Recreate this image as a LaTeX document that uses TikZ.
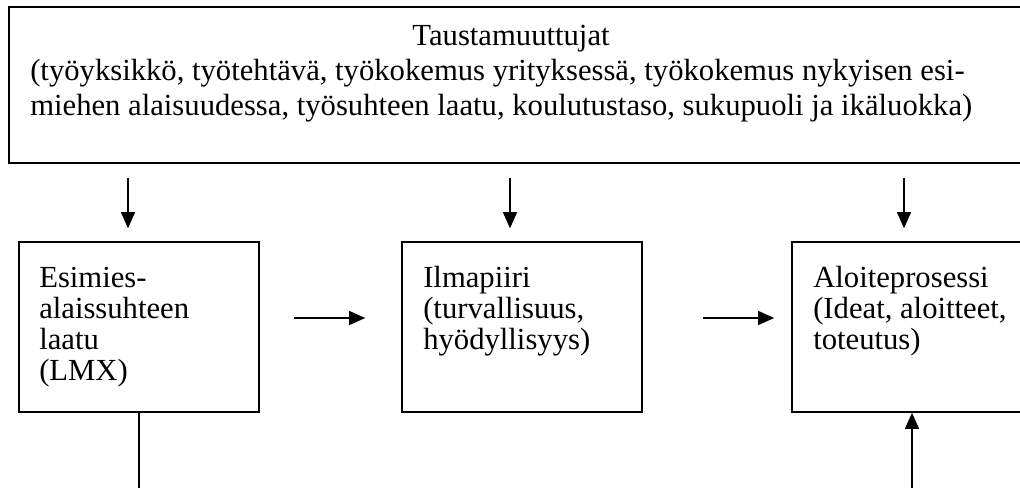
\documentclass[tikz,border=0pt]{standalone}
\usepackage{fontspec}
\setmainfont{Liberation Serif}
\usetikzlibrary{arrows.meta,fit}
\begin{document}
\begin{tikzpicture}[x=0.75pt,y=-0.75pt,
  box/.style={draw,line width=1.2pt,inner sep=0pt},
  arr/.style={line width=0.9pt,-{Triangle[length=12pt,width=10.5pt]}},
  link/.style={line width=0.9pt},
  toptxt/.style={font=\fontsize{23}{26.25}\selectfont,inner sep=0pt,align=left},
  txt/.style={font=\fontsize{23}{23.25}\selectfont,inner sep=0pt,align=left}]
\clip (0,0) rectangle (1020,487);
% background variables (multi-line nodes sit on the baseline of their last line)
\node[box,fit={(9,7) (1024,163)}] (bg) {};
\node[toptxt,anchor=base] (bgtitle) at (511,45) {Taustamuuttujat};
\node[toptxt,anchor=base west] (bglist) at (30,115) {(työyksikkö, työtehtävä, työkokemus yrityksessä, työkokemus nykyisen esi-\\miehen alaisuudessa, työsuhteen laatu, koulutustaso, sukupuoli ja ikäluokka)};
% the three process boxes
\node[box,fit={(19,242) (259,412)}] (lmx) {};
\node[txt,anchor=base west] (lmxtext) at (39,380) {Esimies-\\alaissuhteen\\laatu\\(LMX)};
\node[box,fit={(402,242) (642,412)}] (clim) {};
\node[txt,anchor=base west] (climtext) at (423,349) {Ilmapiiri\\(turvallisuus,\\hyödyllisyys)};
\node[box,fit={(792,242) (1024,412)}] (init) {};
\node[txt,anchor=base west] (inittext) at (813,349) {Aloiteprosessi\\(Ideat, aloitteet,\\toteutus)};
% arrow positions
\coordinate (c1) at (128,0);
\coordinate (c2) at (510,0);
\coordinate (c3) at (904,0);
\coordinate (h) at (0,318);
\coordinate (lmxfoot) at (139,490);
\coordinate (initfoot) at (912,490);
% arrows from the background box
\draw[arr,shorten <=10.5pt,shorten >=9.75pt] (bg.south -| c1) -- (lmx.north -| c1);
\draw[arr,shorten <=10.5pt,shorten >=9.75pt] (bg.south -| c2) -- (clim.north -| c2);
\draw[arr,shorten <=10.5pt,shorten >=9.75pt] (bg.south -| c3) -- (init.north -| c3);
% horizontal arrows between the boxes
\draw[arr,shorten <=25.5pt,shorten >=27pt] (lmx.east |- h) -- (clim.west |- h);
\draw[arr,shorten <=45pt,shorten >=12.75pt] (clim.east |- h) -- (init.west |- h);
% lines leaving and entering at the bottom
\draw[link] (lmx.south -| lmxfoot) -- (lmxfoot);
\draw[arr] (initfoot) -- (init.south -| initfoot);
\end{tikzpicture}
\end{document}
